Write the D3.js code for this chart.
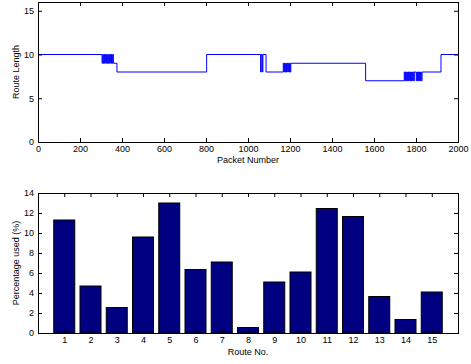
<!DOCTYPE html>
<html><head><meta charset="utf-8">
<script src="https://cdn.jsdelivr.net/npm/d3@7"></script>
<style>
body{margin:0;background:#fff;}
text{font-family:"Liberation Sans",Arial,Helvetica,sans-serif;font-size:9px;fill:#000;}
</style></head>
<body><svg id="c" width="471" height="364"></svg>
<script>
// Top chart: route length per packet (change points: packet where value starts)
const changePackets = [0,305,308,311,314,317,320,323,326,329,332,335,338,341,344,347,350,353,356,359,376,803,1060,1063,1068,1071,1086,1168,1171,1174,1177,1180,1183,1186,1189,1192,1195,1198,1201,1204,1560,1744,1747,1750,1753,1756,1759,1762,1765,1768,1771,1774,1777,1780,1783,1786,1789,1792,1795,1801,1804,1807,1810,1813,1816,1819,1822,1825,1829,1919,2000];
const changeValues  = [10,9,10,9,10,9,10,9,10,9,10,9,10,9,10,9,10,9,10,9,8,10,8,10,8,10,8,9,8,9,8,9,8,9,8,9,8,9,8,9,7,8,7,8,7,8,7,8,7,8,7,8,7,8,7,8,7,8,8,7,8,7,8,7,8,7,8,7,8,10,10];
const topXTicks = [0,200,400,600,800,1000,1200,1400,1600,1800,2000];
const topYTicks = [0,5,10,15];

// Bottom chart: percentage used per route
const routes = [1,2,3,4,5,6,7,8,9,10,11,12,13,14,15];
const percentUsed = [11.3,4.7,2.55,9.6,13.0,6.35,7.1,0.55,5.1,6.1,12.45,11.65,3.65,1.35,4.1];
const bottomYTicks = [0,2,4,6,8,10,12,14];

const svg = d3.select("#c");
const L = 38, R = 458;
const fmt = d3.format("d");

function frame(g, top, bottom){
  g.append("rect").attr("x",L).attr("y",top).attr("width",R-L).attr("height",bottom-top)
    .attr("fill","none").attr("stroke","#000").attr("stroke-width",1).attr("shape-rendering","crispEdges");
}

// ---------- top ----------
{
  const top = 2, bottom = 142;
  const x = d3.scaleLinear().domain([0,2000]).range([L,R]);
  const y = d3.scaleLinear().domain([0,16]).range([bottom,top]);
  const g = svg.append("g");
  const pts = changePackets.map((p,i)=>[p,changeValues[i]]);
  const line = d3.line().x(d=>x(d[0])).y(d=>y(d[1])).curve(d3.curveStepAfter);
  g.append("path").attr("d",line(pts)).attr("fill","none").attr("stroke","#0000ff").attr("stroke-width",1);
  frame(g,top,bottom);
  const ax = d3.axisBottom(x).tickValues(topXTicks).tickFormat(fmt).tickSizeInner(-4).tickSizeOuter(0).tickPadding(4);
  g.append("g").attr("transform",`translate(0,${bottom})`).call(ax).call(s=>s.select(".domain").remove());
  const axT = d3.axisTop(x).tickValues(topXTicks).tickSizeInner(-4).tickSizeOuter(0).tickFormat("");
  g.append("g").attr("transform",`translate(0,${top})`).call(axT).call(s=>s.select(".domain").remove());
  const ay = d3.axisLeft(y).tickValues(topYTicks).tickFormat(fmt).tickSizeInner(-4).tickSizeOuter(0).tickPadding(4);
  g.append("g").attr("transform",`translate(${L},0)`).call(ay).call(s=>s.select(".domain").remove());
  const ayR = d3.axisRight(y).tickValues(topYTicks).tickSizeInner(-4).tickSizeOuter(0).tickFormat("");
  g.append("g").attr("transform",`translate(${R},0)`).call(ayR).call(s=>s.select(".domain").remove());
  g.append("text").attr("x",(L+R)/2).attr("y",163).attr("text-anchor","middle").text("Packet Number");
  g.append("text").attr("transform",`translate(19,${(top+bottom)/2}) rotate(-90)`).attr("text-anchor","middle").text("Route Length");
}

// ---------- bottom ----------
{
  const top = 193, bottom = 333;
  const x = d3.scaleLinear().domain([0,16]).range([L,R]);
  const y = d3.scaleLinear().domain([0,14]).range([bottom,top]);
  const g = svg.append("g");
  const bw = (x(1)-x(0))*0.8;
  g.selectAll("rect.bar").data(routes).enter().append("rect").attr("class","bar")
    .attr("x",d=>x(d)-bw/2).attr("width",bw)
    .attr("y",(d,i)=>y(percentUsed[i])).attr("height",(d,i)=>bottom-y(percentUsed[i]))
    .attr("fill","#000080").attr("stroke","#000").attr("stroke-width",1);
  frame(g,top,bottom);
  const ax = d3.axisBottom(x).tickValues(routes).tickFormat(fmt).tickSizeInner(-4).tickSizeOuter(0).tickPadding(4);
  g.append("g").attr("transform",`translate(0,${bottom})`).call(ax).call(s=>s.select(".domain").remove());
  const axT = d3.axisTop(x).tickValues(routes).tickSizeInner(-4).tickSizeOuter(0).tickFormat("");
  g.append("g").attr("transform",`translate(0,${top})`).call(axT).call(s=>s.select(".domain").remove());
  const ay = d3.axisLeft(y).tickValues(bottomYTicks).tickFormat(fmt).tickSizeInner(-4).tickSizeOuter(0).tickPadding(4);
  g.append("g").attr("transform",`translate(${L},0)`).call(ay).call(s=>s.select(".domain").remove());
  const ayR = d3.axisRight(y).tickValues(bottomYTicks).tickSizeInner(-4).tickSizeOuter(0).tickFormat("");
  g.append("g").attr("transform",`translate(${R},0)`).call(ayR).call(s=>s.select(".domain").remove());
  g.append("text").attr("x",(L+R)/2).attr("y",355).attr("text-anchor","middle").text("Route No.");
  g.append("text").attr("transform",`translate(19,${(top+bottom)/2}) rotate(-90)`).attr("text-anchor","middle").text("Percentage used (%)");
}
svg.selectAll(".tick text").style("font-family","'Liberation Sans',Arial,sans-serif").style("font-size","9px");
</script></body></html>
